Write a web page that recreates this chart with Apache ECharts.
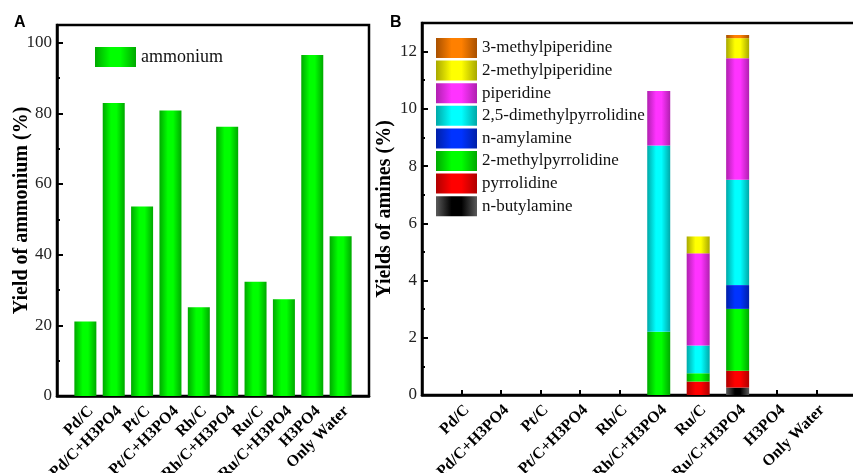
<!DOCTYPE html>
<html>
<head>
<meta charset="utf-8">
<script src="https://cdn.jsdelivr.net/npm/echarts@6/dist/echarts.min.js"></script>
<style>
  html, body { margin: 0; padding: 0; background: #fff; }
  #chart { width: 853px; height: 473px; }
</style>
</head>
<body>
<div id="chart"></div>
<script>
// Catalysts / conditions along both x axes
const categories = ['Pd/C', 'Pd/C+H3PO4', 'Pt/C', 'Pt/C+H3PO4', 'Rh/C', 'Rh/C+H3PO4', 'Ru/C', 'Ru/C+H3PO4', 'H3PO4', 'Only Water'];

// Panel A: yield of ammonium (%)
const ammonium = [21.1, 82.9, 53.6, 80.8, 25.1, 76.2, 32.3, 27.4, 96.5, 45.2];

// Panel B: yields of amines (%), stacked bottom to top
const nButylamine         = [0, 0, 0, 0, 0, 0,    0,    0.26, 0, 0];
const pyrrolidine         = [0, 0, 0, 0, 0, 0,    0.47, 0.59, 0, 0];
const methylpyrrolidine2  = [0, 0, 0, 0, 0, 2.21, 0.29, 2.16, 0, 0];
const nAmylamine          = [0, 0, 0, 0, 0, 0,    0,    0.83, 0, 0];
const dimethylpyrrolidine = [0, 0, 0, 0, 0, 6.51, 0.97, 3.68, 0, 0];
const piperidine          = [0, 0, 0, 0, 0, 1.90, 3.22, 4.25, 0, 0];
const methylpiperidine2   = [0, 0, 0, 0, 0, 0,    0.59, 0.70, 0, 0];
const methylpiperidine3   = [0, 0, 0, 0, 0, 0,    0,    0.11, 0, 0];

// Axis tick values
const ammoniumTicks = { min: 0, max: 105, major: 20, minor: 10 };
const amineTicks = { min: 0, max: 13, major: 2, minor: 1 };

// Empty slots at both ends give the half-step margin around the bars
const paddedCats = [''].concat(categories, ['']);
const pad = arr => ['-'].concat(arr, ['-']);

const SERIF = '"Liberation Serif", "Times New Roman", serif';

function cyl(edge, mid) {
  return new echarts.graphic.LinearGradient(0, 0, 1, 0, [
    { offset: 0, color: edge },
    { offset: 0.38, color: mid },
    { offset: 0.62, color: mid },
    { offset: 1, color: edge }
  ]);
}

const amineSeries = [
  { name: 'n-butylamine', data: nButylamine, color: cyl('#5a5a5a', '#000000') },
  { name: 'pyrrolidine', data: pyrrolidine, color: cyl('#b00000', '#ff0000') },
  { name: '2-methylpyrrolidine', data: methylpyrrolidine2, color: cyl('#00a800', '#00ff00') },
  { name: 'n-amylamine', data: nAmylamine, color: cyl('#0020a8', '#0033ff') },
  { name: '2,5-dimethylpyrrolidine', data: dimethylpyrrolidine, color: cyl('#00a8a8', '#00ffff') },
  { name: 'piperidine', data: piperidine, color: cyl('#b020b0', '#ff33ff') },
  { name: '2-methylpiperidine', data: methylpiperidine2, color: cyl('#a8a800', '#ffff00') },
  { name: '3-methylpiperidine', data: methylpiperidine3, color: cyl('#a85000', '#ff8000') }
];

const frame = {
  show: true, borderColor: '#000', borderWidth: 2.5, backgroundColor: 'transparent',
  outerBoundsMode: 'none', containLabel: false
};
const axisLine = { show: true, onZero: false, lineStyle: { color: '#000', width: 2.5 } };
const tickLabel = { fontFamily: SERIF, fontSize: 17, color: '#222', margin: 5 };
const catLabel = {
  interval: 0, rotate: 45, verticalAlign: 'top',
  fontFamily: SERIF, fontSize: 16, fontWeight: 'bold', color: '#000', margin: 7
};

function valueAxes(gridIndex, t, name, nameGap) {
  return [
    {
      type: 'value', gridIndex, position: 'left', min: t.min, max: t.max, interval: t.major,
      name, nameLocation: 'middle', nameGap, nameMoveOverlap: false,
      nameTextStyle: { fontFamily: SERIF, fontSize: 20, fontWeight: 'bold', color: '#000' },
      axisLine, axisTick: { show: true, inside: true, length: 6, lineStyle: { color: '#000', width: 2 } },
      axisLabel: Object.assign({ showMaxLabel: false }, tickLabel),
      splitLine: { show: false }
    },
    {
      type: 'value', gridIndex, position: 'left', min: t.min, max: t.max, interval: t.minor,
      axisLine: { show: false },
      axisTick: { show: true, inside: true, length: 3, lineStyle: { color: '#000', width: 2 } },
      axisLabel: { show: false }, splitLine: { show: false }
    }
  ];
}

const yAxes = valueAxes(0, ammoniumTicks, 'Yield of ammonium (%)', 25)
  .concat(valueAxes(1, amineTicks, 'Yields of amines (%)', 27));

const option = {
  animation: false,
  backgroundColor: '#fff',
  grid: [
    Object.assign({ left: 57, top: 25, width: 312, height: 371 }, frame),
    Object.assign({ left: 422, top: 23, width: 434, height: 372 }, frame)
  ],
  xAxis: [
    {
      type: 'category', gridIndex: 0, data: paddedCats, boundaryGap: false,
      axisLine, axisTick: { show: false }, axisLabel: catLabel, splitLine: { show: false }
    },
    {
      type: 'category', gridIndex: 1, data: paddedCats, boundaryGap: false,
      axisLine,
      axisTick: { show: true, inside: true, length: 5, lineStyle: { color: '#000', width: 2 },
                  interval: (i, v) => v !== '' },
      axisLabel: catLabel, splitLine: { show: false }
    }
  ],
  yAxis: yAxes,
  legend: [
    {
      data: ['ammonium'], left: 95, top: 47, padding: 0, icon: 'rect', itemWidth: 41, itemHeight: 20, itemGap: 4,
      textStyle: { fontFamily: SERIF, fontSize: 18, color: '#111' }
    },
    {
      data: amineSeries.map(s => s.name).reverse(), orient: 'vertical', left: 436, top: 38, padding: 0,
      icon: 'rect', itemWidth: 41, itemHeight: 20, itemGap: 2.6,
      textStyle: { fontFamily: SERIF, fontSize: 17, color: '#111' }
    }
  ],
  graphic: [
    { type: 'text', left: 14, top: 15, style: { text: 'A', fontFamily: '"Liberation Sans", Arial, sans-serif', fontSize: 16, fontWeight: 'bold', fill: '#000' } },
    { type: 'text', left: 390, top: 15, style: { text: 'B', fontFamily: '"Liberation Sans", Arial, sans-serif', fontSize: 16, fontWeight: 'bold', fill: '#000' } }
  ],
  series: [
    {
      name: 'ammonium', type: 'bar', xAxisIndex: 0, yAxisIndex: 0, barWidth: 22,
      data: pad(ammonium), itemStyle: { color: cyl('#00a800', '#00ff00') }
    }
  ].concat(amineSeries.map(s => ({
    name: s.name, type: 'bar', stack: 'amines', xAxisIndex: 1, yAxisIndex: 2, barWidth: 23,
    data: pad(s.data), itemStyle: { color: s.color }
  })))
};

const chart = echarts.init(document.getElementById('chart'), null, { renderer: 'canvas' });
chart.setOption(option);
</script>
</body>
</html>
